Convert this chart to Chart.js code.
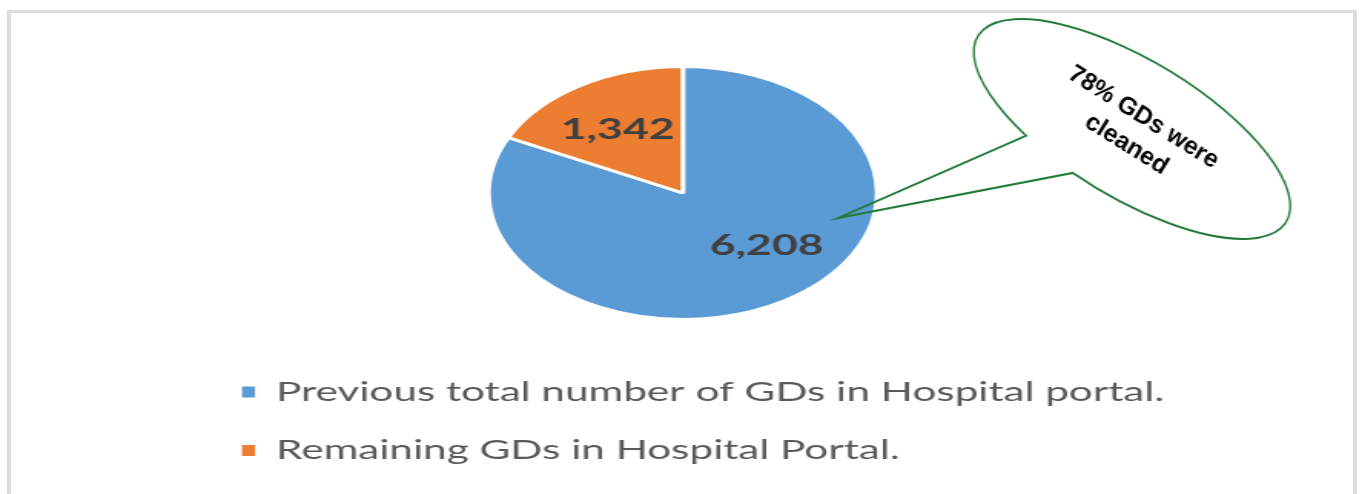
<!DOCTYPE html>
<html>
<head>
<meta charset="utf-8">
<script src="https://cdn.jsdelivr.net/npm/chart.js@4.4.1/dist/chart.umd.min.js"></script>
<style>
  html, body { margin: 0; padding: 0; background: #ffffff; overflow: hidden; width: 1362px; height: 494px; }
  #frame { position: absolute; left: 7px; top: 10px; width: 1342px; height: 600px;
           border-left: 4px solid #dcdcdc; border-top: 3px solid #dcdcdc; border-right: 4px solid #dcdcdc; }
  #wrap { position: absolute; left: 0; top: 0; width: 887px; height: 494px;
          transform: scaleX(1.5355); transform-origin: 0 0; }
</style>
</head>
<body>
<div id="frame"></div>
<div id="wrap"><canvas id="c" width="887" height="494"></canvas></div>
<script>
// ---- data ----
const categories = ['Previous total number of GDs in Hospital portal.', 'Remaining GDs in Hospital Portal.'];
const values = [6208, 1342];
const calloutLines = ['78% GDs were', 'cleaned'];

const STRETCH = 1.5355;

const sliceLabels = {
  id: 'sliceLabels',
  afterDatasetsDraw(chart, args, opts) {
    const ctx = chart.ctx;
    const meta = chart.getDatasetMeta(0);
    ctx.save();
    ctx.font = 'bold 29px Lato, "Liberation Sans", sans-serif';
    ctx.fillStyle = '#404040';
    ctx.textAlign = 'center';
    ctx.textBaseline = 'middle';
    meta.data.forEach((arc, i) => {
      const p = arc.getProps(['x', 'y', 'startAngle', 'endAngle', 'outerRadius'], true);
      const mid = (p.startAngle + p.endAngle) / 2 + (opts.angleShift[i] || 0) * Math.PI / 180;
      const r = p.outerRadius * opts.radiusFactor;
      const v = chart.data.datasets[0].data[i];
      ctx.fillText(v.toLocaleString('en-US'), p.x + Math.cos(mid) * r, p.y + Math.sin(mid) * r);
    });
    ctx.restore();
  }
};

const callout = {
  id: 'callout',
  afterDraw(chart) {
    const ctx = chart.ctx;
    ctx.save();
    ctx.scale(1 / STRETCH, 1);
    const cx = 1132, cy = 129, a = 180, b = 69, rot = 31 * Math.PI / 180;
    const t1 = 119 * Math.PI / 180, t2 = 99 * Math.PI / 180;
    ctx.beginPath();
    ctx.ellipse(cx, cy, a, b, rot, t1, t2, false);
    ctx.lineTo(838, 218);
    ctx.closePath();
    ctx.strokeStyle = '#217a38';
    ctx.lineWidth = 2;
    ctx.stroke();
    ctx.translate(1135, 131);
    ctx.rotate(32 * Math.PI / 180);
    ctx.font = 'bold 25px "Liberation Sans", Arial, sans-serif';
    ctx.fillStyle = '#000000';
    ctx.textAlign = 'center';
    ctx.textBaseline = 'middle';
    ctx.fillText(calloutLines[0], 0, -16);
    ctx.fillText(calloutLines[1], 0, 16);
    ctx.restore();
  }
};

new Chart(document.getElementById('c'), {
  type: 'pie',
  data: {
    labels: categories,
    datasets: [{
      data: values,
      backgroundColor: ['#5b9bd5', '#ed7d31'],
      borderColor: '#ffffff',
      borderWidth: 3,
      radius: 126.5
    }]
  },
  options: {
    responsive: false,
    animation: false,
    devicePixelRatio: 1,
    layout: { padding: { left: 126.6, right: 124.2, top: 38.75, bottom: 19.75 } },
    plugins: {
      tooltip: { enabled: false },
      legend: {
        position: 'bottom',
        align: 'start',
        labels: {
          padding: 31,
          boxWidth: 8.5,
          boxHeight: 11,
          color: '#595959',
          font: { family: 'Lato, "Liberation Sans", sans-serif', size: 27.5 },
          generateLabels(chart) {
            const items = Chart.overrides.pie.plugins.legend.labels.generateLabels(chart);
            items.forEach(it => { it.lineWidth = 0; });
            return items;
          }
        }
      },
      sliceLabels: { radiusFactor: 0.6, angleShift: [-14, -2] }
    }
  },
  plugins: [sliceLabels, callout]
});
</script>
</body>
</html>
